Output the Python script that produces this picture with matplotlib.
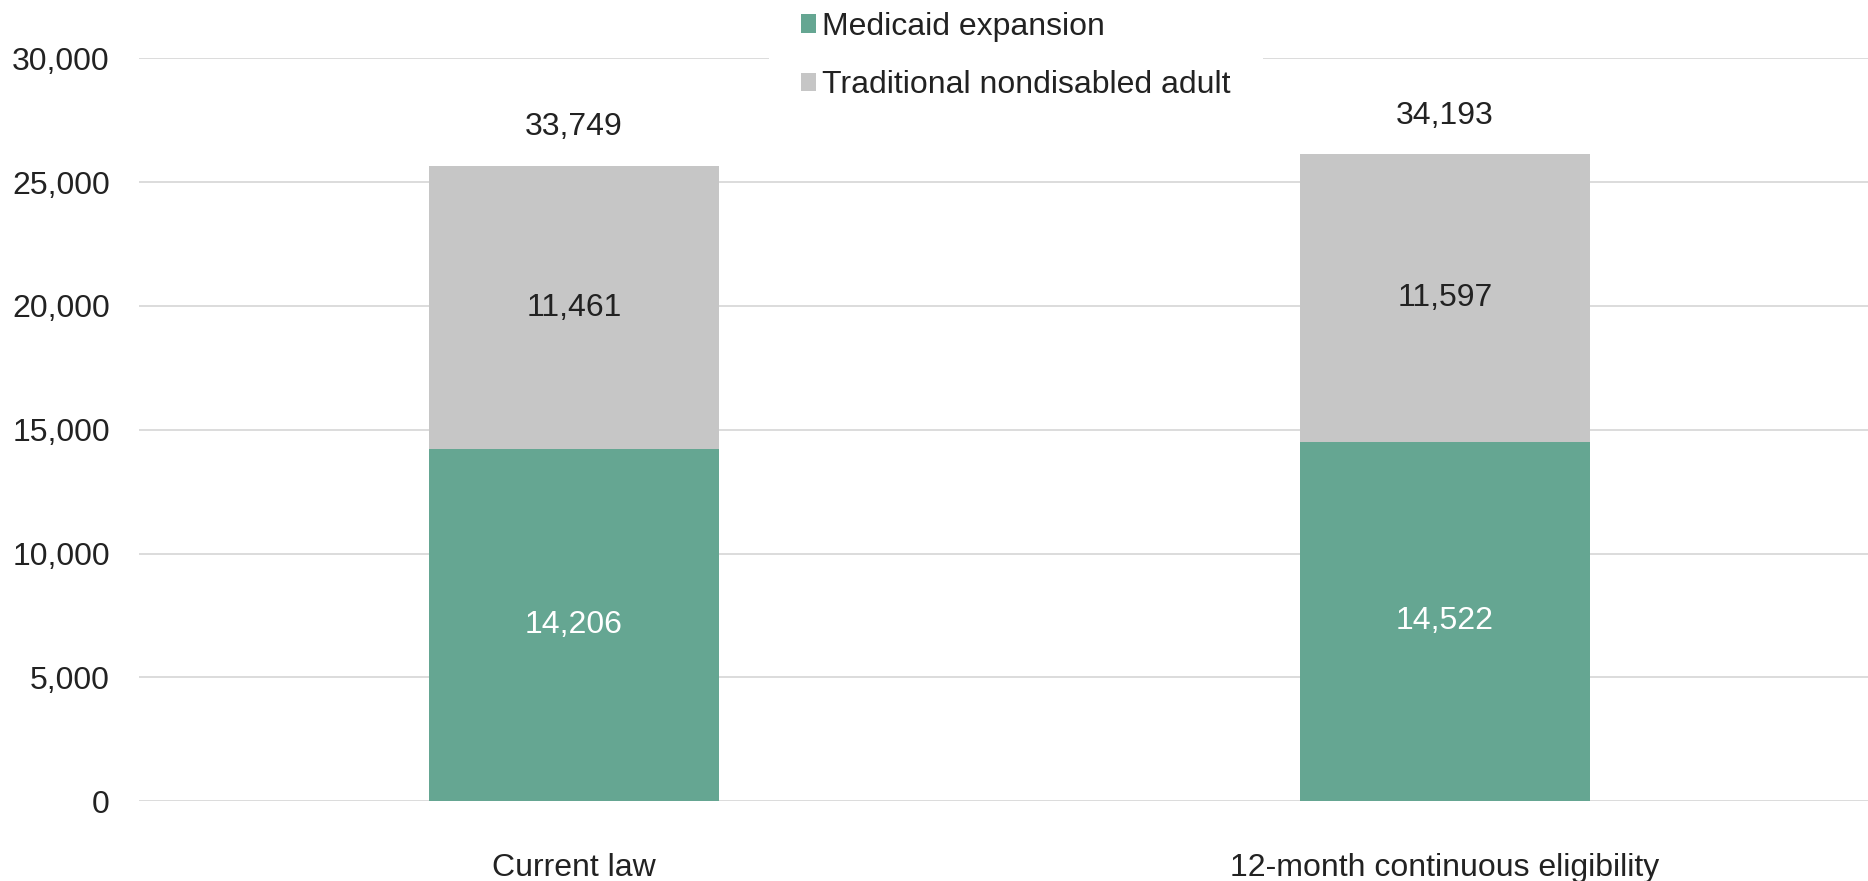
import matplotlib
matplotlib.use('Agg')
import matplotlib.pyplot as plt
from matplotlib.patches import Patch

categories = ["Current law", "12-month continuous eligibility"]
medicaid_expansion = [14206, 14522]
traditional_adult = [11461, 11597]
total_labels = ["33,749", "34,193"]

green = "#65a692"
gray = "#c6c6c6"
text_color = "#222222"

plt.rcParams['font.family'] = ['Liberation Sans', 'DejaVu Sans']
fs = 23

fig = plt.figure(figsize=(18.68, 8.81), dpi=100)
ax = fig.add_axes([139 / 1868, 1 - 801.3 / 881, 1 - 139 / 1868, (801.3 - 58.3) / 881])

x = list(range(len(categories)))
width = 0.334
ax.bar(x, medicaid_expansion, width, color=green, zorder=3)
ax.bar(x, traditional_adult, width, bottom=medicaid_expansion, color=gray, zorder=3)

for i in x:
    m = medicaid_expansion[i]
    t = traditional_adult[i]
    ax.text(i, m / 2, f"{m:,}", ha='center', va='center', color='white', fontsize=fs, zorder=4)
    ax.text(i, m + t / 2, f"{t:,}", ha='center', va='center', color=text_color, fontsize=fs, zorder=4)
    ax.annotate(total_labels[i], (i, m + t), xytext=(0, 28), textcoords='offset points',
                ha='center', va='center', color=text_color, fontsize=fs, zorder=4)

ax.set_xlim(-0.4994, 1.4857)
ax.set_ylim(0, 30000)
ax.set_yticks(range(0, 30001, 5000))
ax.set_yticklabels([f"{v:,}" for v in range(0, 30001, 5000)])
ax.set_xticks(x)
ax.set_xticklabels(categories)
ax.tick_params(axis='y', length=0, pad=21, labelsize=fs, labelcolor=text_color)
ax.tick_params(axis='x', length=0, pad=37, labelsize=fs, labelcolor=text_color)
ax.grid(axis='y', color='#d9d9d9', linewidth=1.3, zorder=0)
ax.set_axisbelow(True)
for s in ax.spines.values():
    s.set_visible(False)

handles = [Patch(facecolor=green, edgecolor='none', label="Medicaid expansion"),
           Patch(facecolor=gray, edgecolor='none', label="Traditional nondisabled adult")]
leg = fig.legend(handles=handles, loc='center', bbox_to_anchor=(1016 / 1868, 1 - 56 / 881),
                 fontsize=fs, frameon=True, facecolor='white', edgecolor='none', framealpha=1,
                 fancybox=False, handlelength=0.47, handleheight=0.53, handletextpad=0.2,
                 labelspacing=0.9, borderpad=1.0, labelcolor=text_color)
leg.set_zorder(10)

fig.savefig("out.png", dpi=100)
